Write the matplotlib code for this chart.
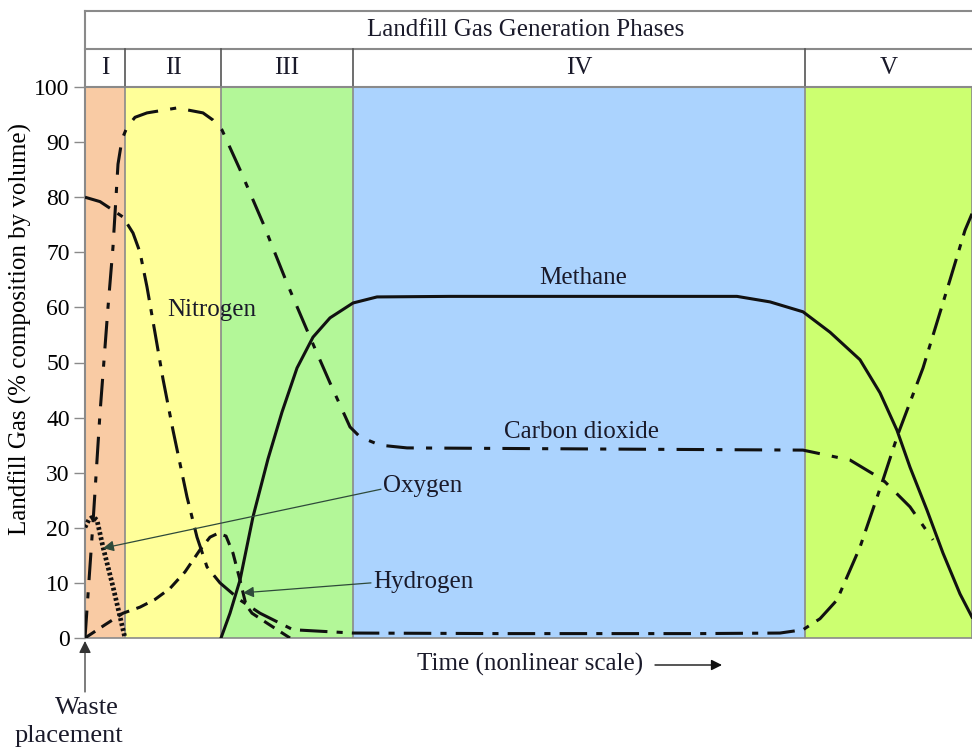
import matplotlib
matplotlib.use("Agg")
import matplotlib.pyplot as plt

plt.rcParams['font.family'] = ['Liberation Serif', 'DejaVu Serif']

# ---- data (time in arbitrary nonlinear units, value in % by volume) ----
phase_names = ["I", "II", "III", "IV", "V"]
phase_edges = [0, 40, 136, 268, 720, 887]
phase_colors = ["#F9CBA4", "#FFFF99", "#B3F798", "#ABD3FE", "#CCFF70"]

n2_t = [0, 15, 25, 38, 48, 55, 62, 70, 78, 88, 102, 112, 122, 135, 155, 175, 208, 268,
        415, 615, 695, 718, 735, 752, 775, 798, 813, 838, 865, 880, 887]
n2_v = [80, 79.2, 78, 76.4, 73.5, 70, 63.7, 55.4, 47, 37.7, 25.6, 18.3, 12.9, 10, 6.9, 4.5, 1.5, 0.9,
        0.8, 0.8, 0.9, 1.5, 3.5, 6.9, 16.5, 28.7, 37, 49, 65, 74, 77]

co2_t = [0, 8, 15, 23, 28, 33, 37, 42, 50, 62, 92, 118, 128, 137, 155, 178, 202, 225, 245,
         265, 275, 295, 322, 515, 718, 765, 798, 825, 848]
co2_v = [0, 20.9, 40.8, 60, 71, 86, 90.5, 92.7, 94.5, 95.3, 96.2, 95.3, 94, 92.2, 85, 75.3,
         64.4, 54.6, 46.3, 38.3, 36.5, 35, 34.5, 34.3, 34.1, 32.3, 28.7, 23.8, 17.8]

ch4_t = [136, 145, 155, 168, 183, 197, 212, 228, 245, 268, 292, 365, 515, 652, 685, 718,
         745, 775, 795, 812, 825, 842, 858, 875, 887]
ch4_v = [0, 4.5, 10.5, 22, 32.5, 41, 49, 54.6, 58.1, 60.8, 61.9, 62, 62, 62, 61, 59.2,
         55.5, 50.5, 44.5, 37.7, 31, 23.2, 15.4, 8, 3.8]

o2_t = [0, 4, 8, 12, 18, 28, 40]
o2_v = [20.1, 21.5, 22, 21.4, 16.5, 9.3, 0]

h2_t = [0, 20, 38, 55, 70, 85, 100, 115, 125, 133, 141, 148, 155, 161, 167, 182, 205]
h2_v = [0, 2.4, 4.5, 5.6, 7, 9, 12, 16, 18.3, 19, 18.5, 15.4, 10.5, 6, 4.5, 2.7, 0]

yticks = [0, 10, 20, 30, 40, 50, 60, 70, 80, 90, 100]

# ---- figure ----
W, H = 972, 749
fig = plt.figure(figsize=(W / 100, H / 100), dpi=100)
ax = fig.add_axes([85 / W, (H - 638) / H, 887 / W, 551 / H])
ax.set_xlim(phase_edges[0], phase_edges[-1])
ax.set_ylim(0, 100)

grey = "#8a8a8a"
for i in range(len(phase_names)):
    ax.axvspan(phase_edges[i], phase_edges[i + 1], color=phase_colors[i], zorder=0, lw=0)
for e in phase_edges[1:-1]:
    ax.axvline(e, color=grey, lw=1.2, zorder=1)

lc = "#111111"
ax.plot(n2_t, n2_v, color=lc, lw=2.2, ls=(0, (9, 3, 2, 3)), zorder=3)
ax.plot(co2_t, co2_v, color=lc, lw=2.2, ls=(0, (9, 4, 2, 4)), zorder=3)
ax.plot(ch4_t, ch4_v, color=lc, lw=2.2, ls='-', zorder=3)
ax.plot(o2_t, o2_v, color=lc, lw=3.4, ls=(0, (0.6, 0.5)), zorder=3)
ax.plot(h2_t, h2_v, color=lc, lw=2.2, ls=(0, (4, 2.5)), zorder=3)

fs = 18
tc = "#1a1a2a"
ax.text(127, 59.5, "Nitrogen", fontsize=fs, ha='center', va='center', color=tc, zorder=4)
ax.text(498, 65.3, "Methane", fontsize=fs, ha='center', va='center', color=tc, zorder=4)
ax.text(497, 37.4, "Carbon dioxide", fontsize=fs, ha='center', va='center', color=tc, zorder=4)
ax.text(298, 27.6, "Oxygen", fontsize=fs, ha='left', va='center', color=tc, zorder=4)
ax.text(288, 10.2, "Hydrogen", fontsize=fs, ha='left', va='center', color=tc, zorder=4)

apc = "#2e4a3a"
ax.annotate("", xy=(18, 16.3), xytext=(296, 27.0),
            arrowprops=dict(arrowstyle='-|>', color=apc, lw=0.9, mutation_scale=16,
                            shrinkA=0, shrinkB=0), zorder=4)
ax.annotate("", xy=(158, 8.2), xytext=(286, 10.0),
            arrowprops=dict(arrowstyle='-|>', color=apc, lw=0.9, mutation_scale=16,
                            shrinkA=0, shrinkB=0), zorder=4)

# axes styling
for s in ax.spines.values():
    s.set_color(grey)
    s.set_linewidth(1.2)
ax.set_xticks([])
ax.set_yticks(yticks)
ax.tick_params(axis='y', direction='out', length=8, width=1, color=grey,
               labelsize=17, pad=3)
ax.set_ylabel("Landfill Gas (% composition by volume)", fontsize=18, labelpad=4)
ax.yaxis.set_label_coords((32 - 85) / 887, 0.56)

# header rows above the axes
bt = ax.get_xaxis_transform()
r1 = 1.0 + 38 / 551
r2 = 1.0 + 76 / 551
for yy in (1.0, r1, r2):
    ax.plot([phase_edges[0], phase_edges[-1]], [yy, yy], transform=bt, color=grey,
            lw=1.5, clip_on=False)
ax.plot([0, 0], [0, r2], transform=bt, color=grey, lw=1.5, clip_on=False)
for e in phase_edges[1:-1]:
    ax.plot([e, e], [1.0, r1], transform=bt, color="#555555", lw=1.2, clip_on=False)
for i, nm in enumerate(phase_names):
    ax.text((phase_edges[i] + phase_edges[i + 1]) / 2, (1.0 + r1) / 2, nm, transform=bt,
            fontsize=fs, ha='center', va='center', color=tc)
ax.text(phase_edges[-1] / 2 - 3, (r1 + r2) / 2, "Landfill Gas Generation Phases",
        transform=bt, fontsize=fs, ha='center', va='center', color=tc)

# x-axis caption with arrow
fig.text(530 / W, 1 - 664 / H, "Time (nonlinear scale)", fontsize=18, ha='center',
         va='center', color=tc)
ax.annotate("", xy=(722 / W, 1 - 665 / H), xytext=(655 / W, 1 - 665 / H),
            xycoords='figure fraction', textcoords='figure fraction',
            arrowprops=dict(arrowstyle='-|>', color="#111111", lw=1.0, mutation_scale=16,
                            shrinkA=0, shrinkB=0))

# waste placement marker
ax.annotate("", xy=(85 / W, 1 - 641 / H), xytext=(85 / W, 1 - 692 / H),
            xycoords='figure fraction', textcoords='figure fraction',
            arrowprops=dict(arrowstyle='-|>', color="#333333", lw=0.9, mutation_scale=18,
                            shrinkA=0, shrinkB=0))
fig.text(87 / W, 1 - 708 / H, "Waste", fontsize=19, ha='center', va='center', color=tc)
fig.text(69 / W, 1 - 736 / H, "placement", fontsize=19, ha='center', va='center', color=tc)

fig.savefig("out.png", dpi=100)
